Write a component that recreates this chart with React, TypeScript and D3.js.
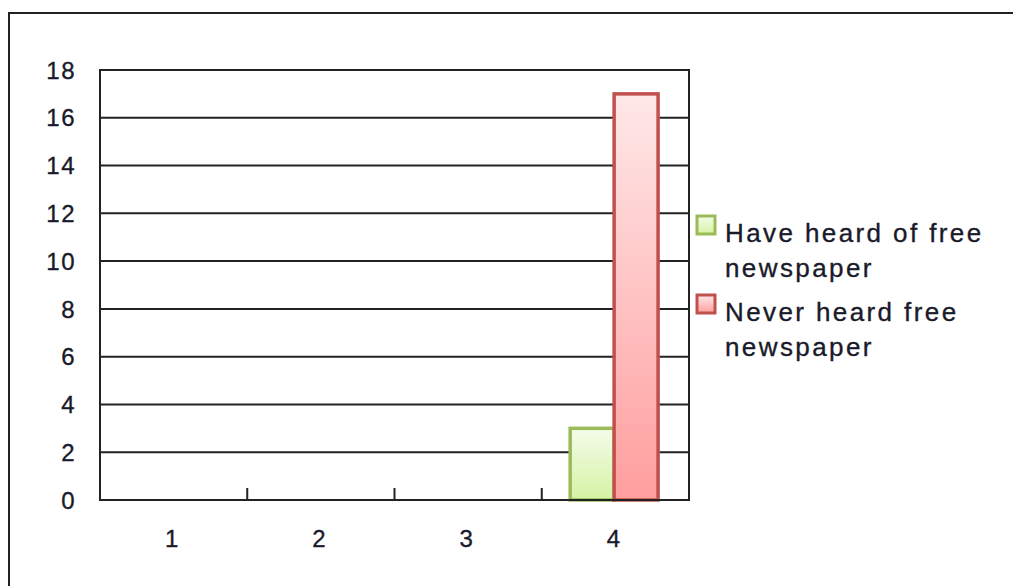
import React from "react";
import * as d3 from "d3";

const categories = ["1", "2", "3", "4"];
const seriesNames = ["Have heard of free newspaper", "Never heard free newspaper"];
const heardValues = [0, 0, 0, 3];
const neverValues = [0, 0, 0, 17];
const yTicks = [0, 2, 4, 6, 8, 10, 12, 14, 16, 18];
const legendLines = [["Have heard of free", "newspaper"], ["Never heard free", "newspaper"]];

const W = 1013, H = 586;
const plot = { left: 100, right: 689, top: 70, bottom: 500 };

export default function App() {
  const x = d3.scaleBand<string>().domain(categories).range([plot.left, plot.right]).padding(0);
  const bw = x.bandwidth();
  const x1 = d3.scaleBand<string>().domain(seriesNames).range([bw * 0.193, bw * 0.79]).padding(0);
  const y = d3.scaleLinear().domain([0, 18]).range([plot.bottom, plot.top]);
  const series = [
    { name: seriesNames[0], values: heardValues, stroke: "#9BBB59", grad: "gGreen" },
    { name: seriesNames[1], values: neverValues, stroke: "#C0504D", grad: "gRed" },
  ];
  const font = "'Liberation Sans', Arial, sans-serif";
  const textColor = "#1a1a2a";
  const textStroke = { stroke: textColor, strokeWidth: 0.35 };
  return (
    <svg width={W} height={H} style={{ position: "absolute", left: 0, top: 0, background: "#fff" }}>
      <defs>
        <linearGradient id="gGreen" x1="0" y1="0" x2="0" y2="1">
          <stop offset="0%" stopColor="#F5FCEA" />
          <stop offset="100%" stopColor="#D5F2A4" />
        </linearGradient>
        <linearGradient id="gRed" x1="0" y1="0" x2="0" y2="1">
          <stop offset="0%" stopColor="#FFE8E8" />
          <stop offset="100%" stopColor="#FF9E9E" />
        </linearGradient>
      </defs>
      <rect x={9} y={13} width={W + 10} height={H + 10} fill="#fff" stroke="#222" strokeWidth={2} />
      {yTicks.map((t) => (
        <g key={t}>
          {t > 0 && t < 18 && (
            <line x1={plot.left} x2={plot.right} y1={y(t)} y2={y(t)} stroke="#222" strokeWidth={2} />
          )}
          <text x={76} y={y(t)} dy="0.36em" textAnchor="end" fontFamily={font} fontSize={24} letterSpacing={1.5} fill={textColor} {...textStroke}>
            {t}
          </text>
        </g>
      ))}
      {categories.slice(1).map((c) => (
        <line key={c} x1={x(c)!} x2={x(c)!} y1={plot.bottom} y2={plot.bottom - 12} stroke="#222" strokeWidth={2} />
      ))}
      {series.map((s) =>
        s.values.map((v, i) =>
          v > 0 ? (
            <rect
              key={s.name + i}
              x={x(categories[i])! + x1(s.name)!}
              y={y(v)}
              width={x1.bandwidth()}
              height={y(0) - y(v)}
              fill={`url(#${s.grad})`}
              stroke={s.stroke}
              strokeWidth={3.5}
            />
          ) : null
        )
      )}
      <rect x={plot.left} y={plot.top} width={plot.right - plot.left} height={plot.bottom - plot.top} fill="none" stroke="#222" strokeWidth={2} />
      {categories.map((c) => (
        <text key={c} x={x(c)! + bw / 2 - 2} y={538} dy="0.36em" textAnchor="middle" fontFamily={font} fontSize={24} fill={textColor} {...textStroke}>
          {c}
        </text>
      ))}
      {series.map((s, i) => {
        const top = i === 0 ? 216 : 295;
        return (
          <g key={s.name}>
            <rect x={697} y={top} width={18} height={18} fill={`url(#${s.grad})`} stroke={s.stroke} strokeWidth={3} />
            {legendLines[i].map((ln, j) => (
              <text key={j} x={725} y={top + 26 + j * 35} fontFamily={font} fontSize={26} letterSpacing={2.4} fill={textColor} {...textStroke}>
                {ln}
              </text>
            ))}
          </g>
        );
      })}
    </svg>
  );
}
